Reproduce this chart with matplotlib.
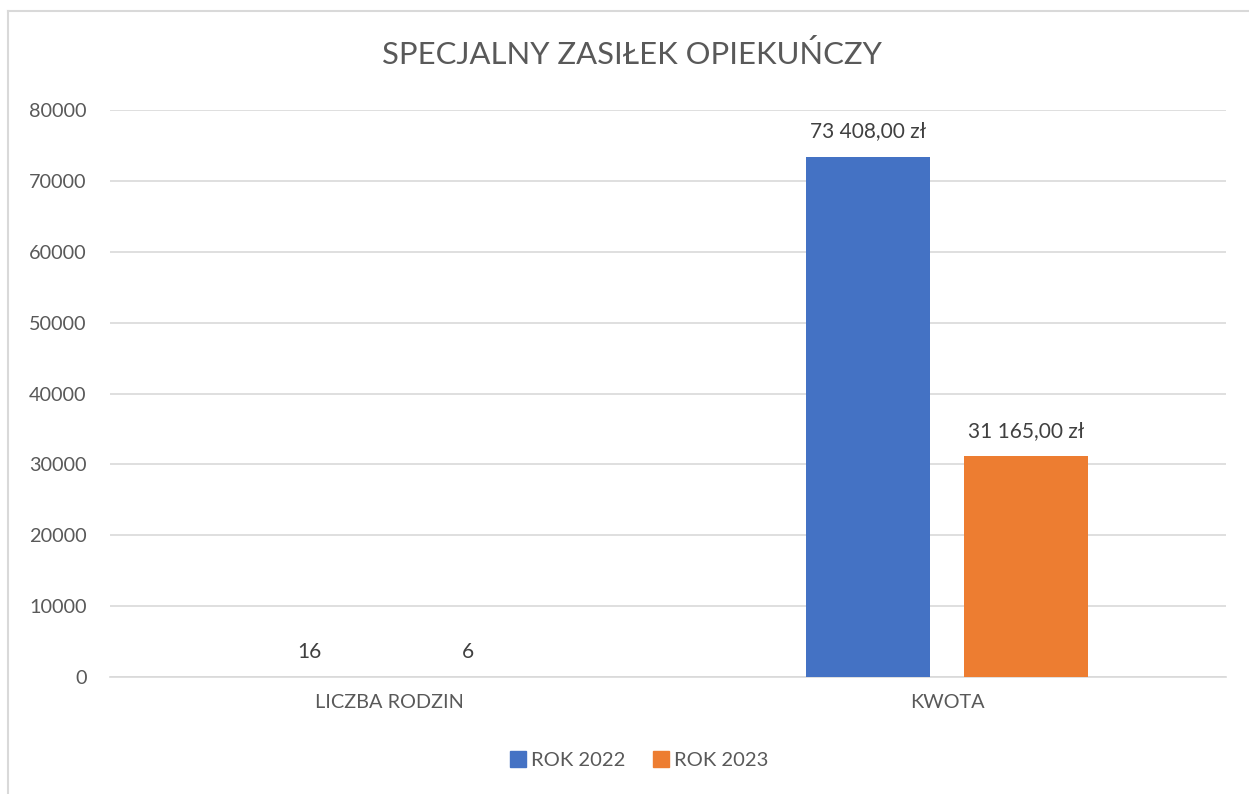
import matplotlib

matplotlib.use("Agg")
import matplotlib.pyplot as plt
import numpy as np
from matplotlib.lines import Line2D

categories = ["LICZBA RODZIN", "KWOTA"]
series_names = ["ROK 2022", "ROK 2023"]
rok_2022 = [16, 73408.00]
rok_2023 = [6, 31165.00]
labels_2022 = ["16", "73 408,00 zł"]
labels_2023 = ["6", "31 165,00 zł"]
yticks = [0, 10000, 20000, 30000, 40000, 50000, 60000, 70000, 80000]

colors = ["#4472C4", "#ED7D31"]
text_color = "#595959"
grid_color = "#D9D9D9"

plt.rcParams["font.family"] = ["Lato", "DejaVu Sans"]

fig = plt.figure(figsize=(12.49, 7.94), dpi=100)
ax = fig.add_axes([110 / 1249, 1 - 677 / 794, (1226 - 110) / 1249, (677 - 110) / 794])

x = np.arange(len(categories))
width = 0.222
offset = 0.142
bars1 = ax.bar(x - offset, rok_2022, width, color=colors[0], zorder=3)
bars2 = ax.bar(x + offset, rok_2023, width, color=colors[1], zorder=3)

for bars, labels in ((bars1, labels_2022), (bars2, labels_2023)):
    for b, lab in zip(bars, labels):
        ax.annotate(lab, (b.get_x() + b.get_width() / 2, b.get_height()),
                    xytext=(0, 11), textcoords="offset points",
                    ha="center", va="bottom", fontsize=15, color="#404040")

ax.set_xlim(-0.5, 1.5)
ax.set_ylim(0, 80000)
ax.set_yticks(yticks)
ax.set_yticklabels([str(v) for v in yticks])
ax.set_xticks(x)
ax.set_xticklabels(categories)
ax.tick_params(axis="both", length=0, labelsize=14.3, colors=text_color)
ax.tick_params(axis="y", pad=17)
ax.tick_params(axis="x", pad=12)
ax.yaxis.grid(True, color=grid_color, lw=1.2, zorder=0)
for s in ["top", "right", "left"]:
    ax.spines[s].set_visible(False)
ax.spines["bottom"].set_color(grid_color)
ax.spines["bottom"].set_linewidth(1.2)

fig.text(0.506, 1 - 55 / 794, "SPECJALNY ZASIŁEK OPIEKUŃCZY", ha="center", va="center",
         fontsize=22.3, color=text_color)

handles = [Line2D([], [], marker="s", ls="", color=c, markersize=11) for c in colors]
fig.legend(handles, series_names, loc="center", bbox_to_anchor=(0.511, 1 - 760 / 794),
           ncol=2, frameon=False, fontsize=14.5, labelcolor=text_color,
           handletextpad=0.15, columnspacing=1.3, handlelength=1.0)

# chart frame (left and top edges visible in the crop)
fig.add_artist(Line2D([8 / 1249, 8 / 1249], [0, 1 - 11 / 794], color=grid_color, lw=1.5))
fig.add_artist(Line2D([8 / 1249, 1], [1 - 11 / 794, 1 - 11 / 794], color=grid_color, lw=1.5))

fig.savefig("out.png", dpi=100, facecolor="white")
